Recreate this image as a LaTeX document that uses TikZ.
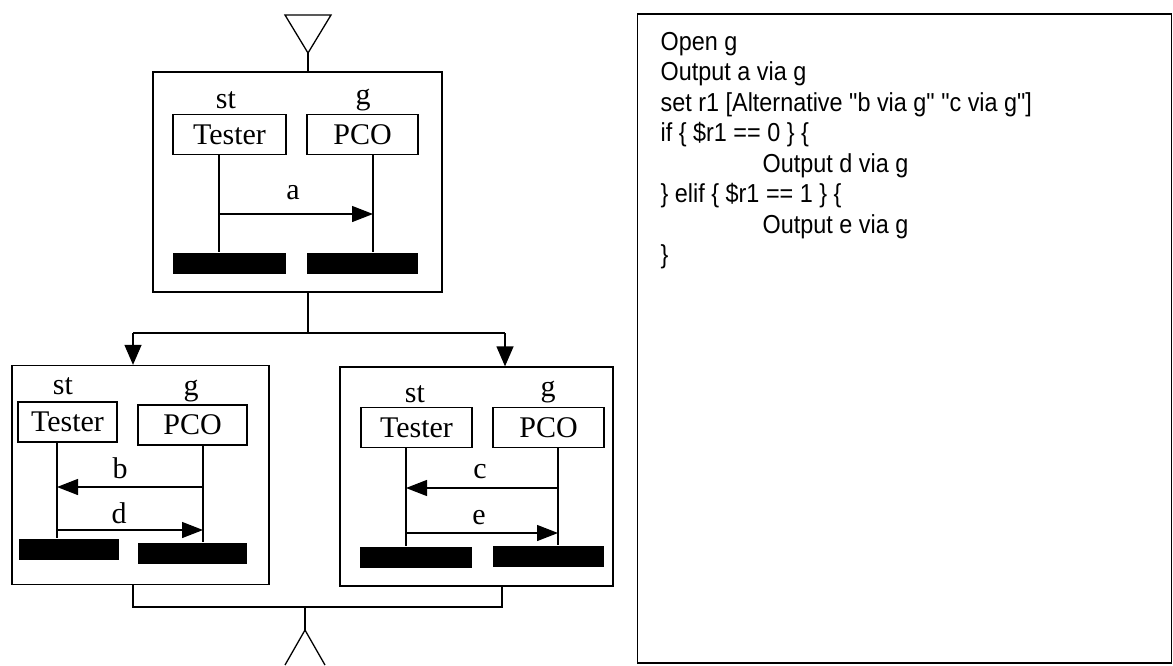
\documentclass[tikz,border=0pt]{standalone}
\usepackage{fontspec}
\setmainfont{Liberation Serif}
\newfontfamily\codefont[FakeStretch=0.9]{Liberation Sans}
\usetikzlibrary{arrows.meta}
\begin{document}
\begin{tikzpicture}[x=1pt,y=-1pt,
  line width=1.3pt,
  frame/.style={draw, rectangle, inner sep=0pt},
  objbox/.style={draw, rectangle, inner sep=0pt, minimum height=40pt, font=\fontsize{30}{32}\selectfont},
  bar/.style={fill=black, rectangle, inner sep=0pt, minimum height=21pt},
  lbl/.style={inner sep=0pt, font=\fontsize{30}{32}\selectfont},
  msg/.style={-{Triangle[length=21pt,width=16pt]}},
  down/.style={-{Triangle[length=20pt,width=17pt]}},
  code/.style={anchor=base west, inner sep=0pt, font=\codefont\fontsize{26}{30}\selectfont}]
\useasboundingbox (0,0) rectangle (1173,665);

% ---- entry triangle and first test step ----
\coordinate (tin) at (308,53);
\draw (285,15) -- (331,15) -- (tin) -- cycle;
\node[frame, minimum width=289pt, minimum height=220pt] (top) at (297.5,182) {};
\draw (tin) -- (tin |- top.north);

\node[lbl] (stT) at (226,100) {st};
\node[lbl] (gT) at (363,100) {g};
\node[objbox, minimum width=113pt] (testerT) at (229.5,134.5) {Tester};
\node[objbox, minimum width=111pt] (pcoT) at (362.5,134.5) {PCO};
\node[bar, minimum width=113pt] (barT1) at (229.5,263) {};
\node[bar, minimum width=111pt] (barT2) at (362.5,263) {};
\draw (219,0 |- testerT.south) -- (219,0 |- barT1.north);
\draw (373,0 |- pcoT.south) -- (373,0 |- barT2.north);
\coordinate (aS) at (219,214);
\coordinate (aE) at (373,214);
\draw[msg] (aS) -- (aE);
\node[lbl] (la) at (293,193) {a};

% ---- branching ----
\coordinate (split) at (308,333);
\coordinate (splitL) at (133,333);
\coordinate (splitR) at (505,333);
\draw (top.south -| split) -- (split);
\draw (splitL) -- (splitR);

% ---- left alternative ----
\node[frame, minimum width=257pt, minimum height=219pt] (left) at (140.5,475) {};
\draw[down] (splitL) -- (splitL |- left.north);
\node[lbl] (stL) at (63,386) {st};
\node[lbl] (gL) at (191,391) {g};
\node[objbox, minimum width=99pt] (testerL) at (67.5,422) {Tester};
\node[objbox, minimum width=109pt] (pcoL) at (192.5,425) {PCO};
\node[bar, minimum width=100pt] (barL1) at (69,549) {};
\node[bar, minimum width=109pt] (barL2) at (192.5,553) {};
\draw (57,0 |- testerL.south) -- (57,0 |- barL1.north);
\draw (203,0 |- pcoL.south) -- (203,0 |- barL2.north);
\coordinate (bS) at (203,487);
\coordinate (bE) at (57,487);
\draw[msg] (bS) -- (bE);
\node[lbl] (lb) at (120,468) {b};
\coordinate (dS) at (57,530);
\coordinate (dE) at (203,530);
\draw[msg] (dS) -- (dE);
\node[lbl] (ld) at (119,513) {d};

% ---- right alternative ----
\node[frame, minimum width=273pt, minimum height=219pt] (right) at (476.5,476.5) {};
\draw[down] (splitR) -- (splitR |- right.north);
\node[lbl] (stR) at (415,394) {st};
\node[lbl] (gR) at (548,392) {g};
\node[objbox, minimum width=111pt] (testerR) at (416.5,427.5) {Tester};
\node[objbox, minimum width=111pt] (pcoR) at (548.5,427.5) {PCO};
\node[bar, minimum width=112pt] (barR1) at (416,557) {};
\node[bar, minimum width=111pt] (barR2) at (548.5,556) {};
\draw (406,0 |- testerR.south) -- (406,0 |- barR1.north);
\draw (558,0 |- pcoR.south) -- (558,0 |- barR2.north);
\coordinate (cS) at (558,488);
\coordinate (cE) at (406,488);
\draw[msg] (cS) -- (cE);
\node[lbl] (lc) at (480,472) {c};
\coordinate (eS) at (406,533);
\coordinate (eE) at (558,533);
\draw[msg] (eS) -- (eE);
\node[lbl] (le) at (479,518) {e};

% ---- merge and exit triangle ----
\coordinate (joinL) at (133,607);
\coordinate (joinR) at (502,607);
\coordinate (join) at (305,607);
\coordinate (tout) at (305,630);
\draw (left.south -| joinL) -- (joinL) -- (joinR) -- (right.south -| joinR);
\draw (join) -- (tout);
\draw (285,665) -- (tout) -- (325,665);

% ---- test script ----
\node[frame, line width=1.1pt, minimum width=534pt, minimum height=649pt] (script) at (904.5,338.5) {};
\node[code] (l1) at (660,50) {Open g};
\node[code] (l2) at (660,80.5) {Output a via g};
\node[code] (l3) at (660,111) {set r1 [Alternative "b via g" "c via g"]};
\node[code] (l4) at (660,141.5) {if \{ \$r1 == 0 \} \{};
\node[code] (l5) at (762,172) {Output d via g};
\node[code] (l6) at (660,202.5) {\} elif \{ \$r1 == 1 \} \{};
\node[code] (l7) at (762,233) {Output e via g};
\node[code] (l8) at (660,263.5) {\}};
\end{tikzpicture}
\end{document}
